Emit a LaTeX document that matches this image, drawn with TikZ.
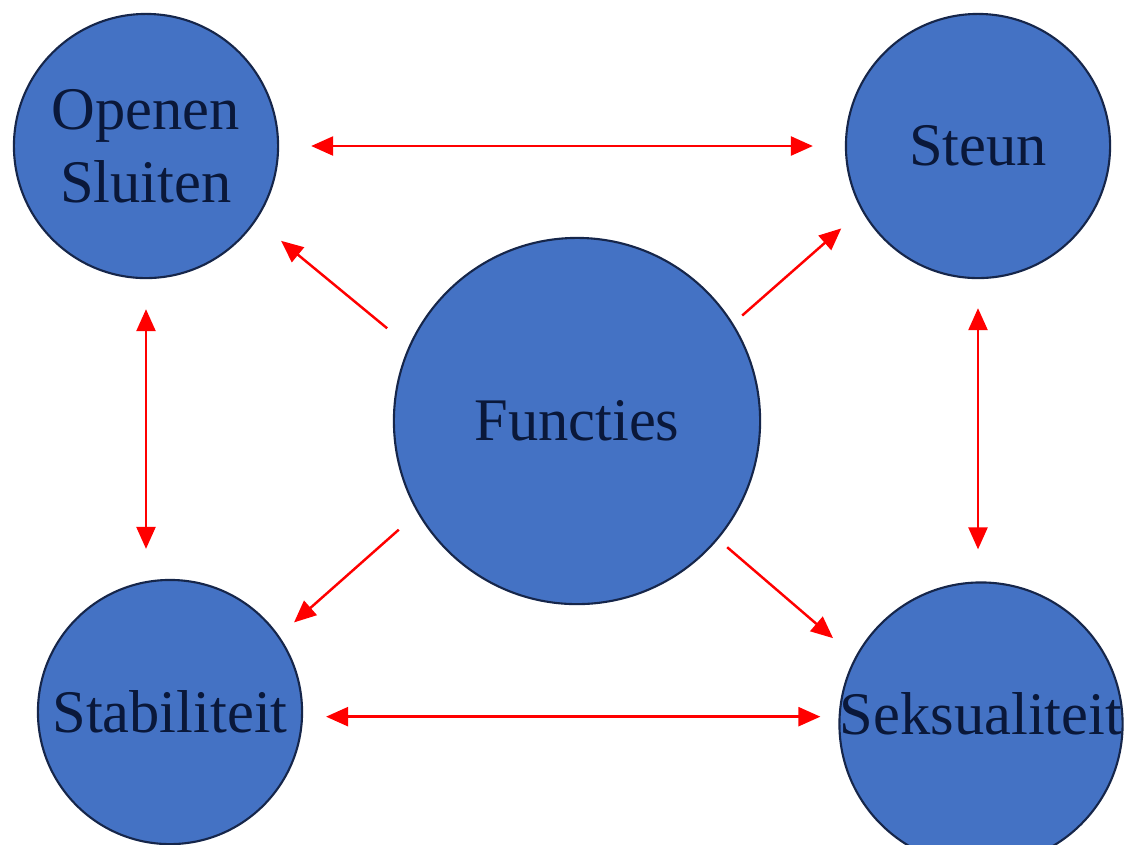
\documentclass[tikz,border=0pt]{standalone}
\usepackage{fontspec}
\setmainfont{Liberation Serif}
\usetikzlibrary{arrows.meta}
\definecolor{bolvul}{RGB}{68,114,196}
\definecolor{bolrand}{RGB}{22,38,74}
\definecolor{boltekst}{RGB}{10,24,58}
\tikzset{
  bol/.style={circle, draw=bolrand, line width=0.6pt, fill=bolvul, text=boltekst,
    inner sep=0pt, align=center, font=\fontsize{17.2}{20.8}\selectfont},
  pijl/.style={red, line width=0.7pt},
}
\begin{document}
\begin{tikzpicture}[x=0.01cm, y=-0.01cm, >={Triangle[length=0.22cm, width=0.19cm]}]
  \useasboundingbox (0,0) rectangle (1125,844);
  \fill[white] (0,0) rectangle (1125,844);
  % 圆形节点
  \node[bol, minimum size=2.64cm] (Open) at (146,146) {Openen\\Sluiten};
  \node[bol, minimum size=2.64cm] (Steun) at (978,146) {Steun};
  \node[bol, minimum size=3.66cm] (Fun) at (577,421) {Functies};
  \node[bol, minimum size=2.64cm] (Stab) at (170,712) {Stabiliteit};
  \node[bol, minimum size=2.83cm,
    label={[text=boltekst, font=\fontsize{17.2}{20.8}\selectfont, yshift=0.1cm]center:Seksualiteit}]
    (Seks) at (981,724) {};

  % 双向箭头
  \draw[<->, pijl, shorten <=0.32cm, shorten >=0.32cm] (Open) -- (Steun);
  \draw[<->, pijl, shorten <=0.3cm, shorten >=0.3cm] (Open.south) -- (Open.south |- Stab.north);
  \draw[<->, pijl, shorten <=0.29cm, shorten >=0.32cm] (Steun.south) -- (Steun.south |- Seks.north);
  \draw[<->, pijl, shorten <=0.23cm, shorten >=0.18cm] (Stab.-2) -- (Stab.-2 -| Seks.west);
  % 中心到四周
  \draw[->, pijl, shorten <=0.28cm, shorten >=0.32cm] (Fun.156) -- (Open.-34);
  \draw[->, pijl, shorten <=0.12cm, shorten >=0.27cm] (Fun.32) -- (Steun.-151);
  \draw[->, pijl, shorten <=0.25cm, shorten >=0.2cm] (Fun.210) -- (Stab.35);
  \draw[->, pijl, shorten <=0.12cm, shorten >=0.29cm] (Fun.-40) -- (Seks.152);
\end{tikzpicture}
\end{document}
